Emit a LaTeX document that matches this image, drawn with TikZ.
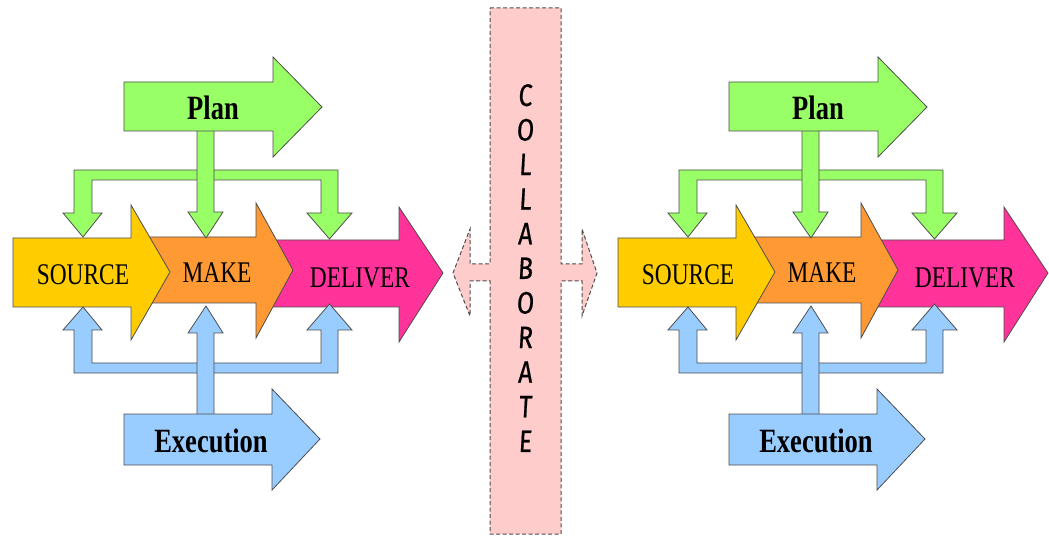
\documentclass[tikz,border=0pt]{standalone}
\usepackage{fontspec}
\setmainfont{Liberation Serif}[FakeStretch=0.78]
\newfontfamily\collabfont{Fira Sans}[FakeStretch=0.8,FakeSlant=0.06,FakeBold=0.6]
\definecolor{plangreen}{HTML}{99FF66}
\definecolor{srcyellow}{HTML}{FFCC00}
\definecolor{makeorange}{HTML}{FF9933}
\definecolor{delpink}{HTML}{FF3399}
\definecolor{execblue}{HTML}{99CCFF}
\definecolor{colpink}{HTML}{FFCCCC}
\definecolor{edgegray}{HTML}{4D4D4D}
\tikzset{
  blockarrow/.style={draw=edgegray,line width=0.8bp,line join=miter},
  collabshape/.style={draw=edgegray,fill=colpink,line width=1bp,dash pattern=on 4bp off 2.5bp},
  steplabel/.style={inner sep=0,anchor=base,font=\fontsize{30bp}{36bp}\selectfont},
  boldlabel/.style={inner sep=0,anchor=base,font=\bfseries\fontsize{34bp}{40bp}\selectfont},
  collabtext/.style={inner sep=0,anchor=north,align=center,font=\collabfont\fontsize{31bp}{34.6bp}\selectfont}
}
\begin{document}
\begin{tikzpicture}[x=1bp,y=-1bp]
\useasboundingbox (0,0) rectangle (1049,536);
% collaborate band
\draw[collabshape] (490,8) -- (561,8) -- (561,264) -- (582,264) -- (582,229) -- (597,273)
  -- (582,316) -- (582,281) -- (561,281) -- (561,534) -- (490,534) -- (490,281)
  -- (470,281) -- (470,316) -- (453,273) -- (470,229) -- (470,264) -- (490,264) -- cycle;
\node[collabtext] (collab) at (525,84) {C\\O\\L\\L\\A\\B\\O\\R\\A\\T\\E};
\foreach \sx/\g in {0/L,605/R}{
\begin{scope}[shift={(\sx,0)}]
  % main process arrows
  \draw[blockarrow,fill=delpink] (265,240) -- (399,240) -- (399,207) -- (443,273) -- (399,342) -- (399,307) -- (265,307) -- cycle;
  \draw[blockarrow,fill=makeorange] (140,237) -- (256,237) -- (256,203) -- (293,270) -- (256,338) -- (256,303) -- (140,303) -- cycle;
  \draw[blockarrow,fill=srcyellow] (13,238) -- (131,238) -- (131,205) -- (170,272) -- (131,340) -- (131,307) -- (13,307) -- cycle;
  % plan bracket and stem
  \draw[blockarrow,fill=plangreen] (74,170) -- (338,170) -- (338,213) -- (352,213) -- (329.5,239) -- (307,213)
    -- (321,213) -- (321,180) -- (92,180) -- (92,213) -- (102,213) -- (83,237) -- (63,213) -- (74,213) -- cycle;
  \draw[blockarrow,fill=plangreen] (197,125) -- (214,125) -- (214,212) -- (223,212) -- (206,238) -- (188,212) -- (197,212) -- cycle;
  \draw[blockarrow,fill=plangreen] (124,82) -- (273,82) -- (273,57) -- (322,107) -- (273,157) -- (273,131) -- (124,131) -- cycle;
  % execution bracket and stem
  \draw[blockarrow,fill=execblue] (74,373) -- (338,373) -- (338,330) -- (352,330) -- (329.5,304) -- (307,330)
    -- (321,330) -- (321,363) -- (92,363) -- (92,330) -- (102,330) -- (83,307) -- (63,330) -- (74,330) -- cycle;
  \draw[blockarrow,fill=execblue] (197,420) -- (214,420) -- (214,333) -- (223,333) -- (206,306) -- (188,333) -- (197,333) -- cycle;
  \draw[blockarrow,fill=execblue] (124,414) -- (272,414) -- (272,389) -- (320,439) -- (272,490) -- (272,465) -- (124,465) -- cycle;
  % labels
  \node[boldlabel] (plan\g) at (213,120) {Plan};
  \node[boldlabel] (exec\g) at (211,452) {Execution};
  \node[steplabel] (source\g) at (83,285) {SOURCE};
  \node[steplabel] (make\g) at (217,283) {MAKE};
  \node[steplabel] (deliver\g) at (360,288) {DELIVER};
\end{scope}
}
\end{tikzpicture}
\end{document}
